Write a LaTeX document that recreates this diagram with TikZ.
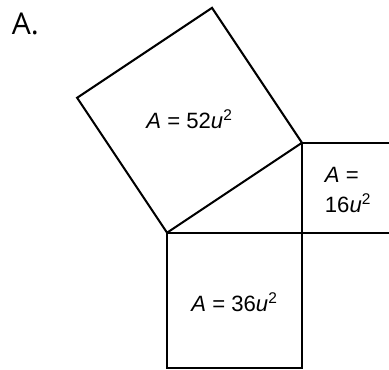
\documentclass[tikz,border=0pt]{standalone}
\usepackage{fontspec}
\setmainfont{Liberation Sans}
\newfontfamily\tagfont{Open Sans}
\usetikzlibrary{calc}
\newcommand{\areau}[1]{\textit{A} = #1\textit{u}\textsuperscript{2}}

\begin{document}
\begin{tikzpicture}[
  x=0.5cm,y=0.5cm, color=black,
  sq/.style   ={draw=black, line width=1.3pt, line join=miter},
  area/.style ={font=\fontsize{14}{19}\selectfont, inner sep=0pt},
  tag/.style  ={font=\tagfont\fontsize{19}{22}\selectfont, inner sep=0pt},
]

\def\a{6}\def\b{4}

% ----- frame: the small square runs off the right edge --------------------
\clip (-13.43,-6.1) rectangle (3.87,10.35);

% ----- the right triangle -------------------------------------------------
\coordinate (P) at (-\a,0);   % acute corner, left
\coordinate (R) at (0,0);     % right angle
\coordinate (Q) at (0,\b);    % acute corner, top

% ----- one square on each side --------------------------------------------
\draw[sq] (P) -- (R) -- (0,-\a) -- (-\a,-\a) -- cycle;
\draw[sq] (R) -- (\b,0) -- (\b,\b) -- (Q) -- cycle;
\draw[sq] (P) -- (Q) -- ($(Q)+(-\b,\a)$) -- ($(P)+(-\b,\a)$) -- cycle;

% ----- areas, each at the centre of its square ----------------------------
\node[area] (hyp)  at (-5,5.05)  {\areau{52}};
\node[area] (legA) at (-3,-3.1)  {\areau{36}};
\node[area,align=left] (legB) at (2.05,1.9) {\textit{A} =\\16\textit{u}\textsuperscript{2}};

\node[tag] (lbl) at (-12.3,9.3) {A.};

\end{tikzpicture}
\end{document}
